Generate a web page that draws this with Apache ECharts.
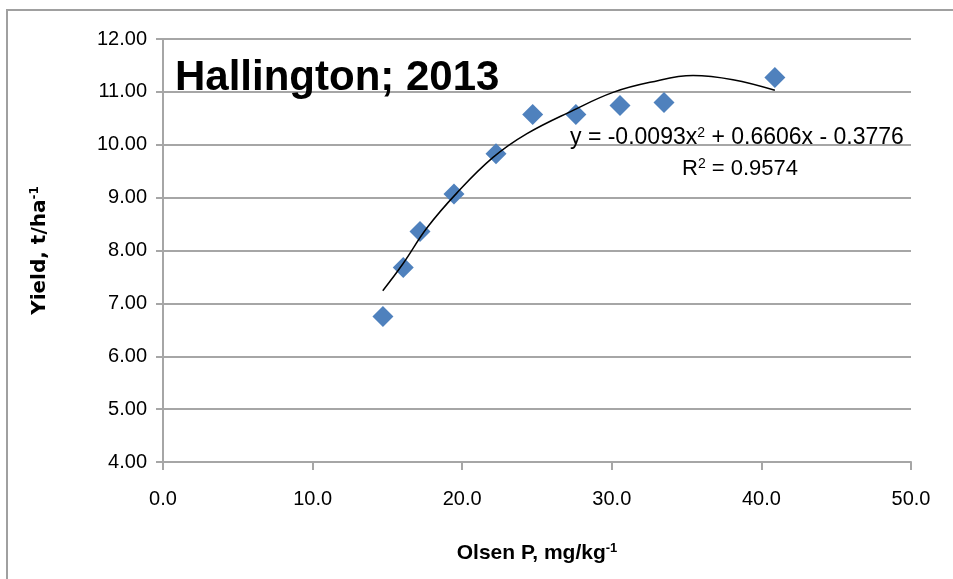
<!DOCTYPE html>
<html>
<head>
<meta charset="utf-8">
<script src="https://cdn.jsdelivr.net/npm/echarts@6/dist/echarts.min.js"></script>
<style>
  html, body { margin: 0; padding: 0; background: #fff; }
  #chart { width: 953px; height: 579px; }
</style>
</head>
<body>
<div id="chart"></div>
<script>
// 观测点（Olsen P, Yield）
var olsenP = [14.7, 16.06, 17.18, 19.45, 22.26, 24.71, 27.6, 30.55, 33.49, 40.9];
var yieldT = [6.75, 7.68, 8.36, 9.07, 9.83, 10.57, 10.57, 10.74, 10.8, 11.27];

// 趋势线，从图上读出的点
var trendX = [14.69, 16.04, 17.65, 19.65, 22.06, 24.33, 27.41, 30.08, 32.55, 35.43, 38.1, 40.9];
var trendY = [7.24, 7.75, 8.43, 9.09, 9.76, 10.21, 10.65, 10.99, 11.18, 11.31, 11.23, 11.03];

var xTicks = [0, 10, 20, 30, 40, 50];
var yTicks = [4, 5, 6, 7, 8, 9, 10, 11, 12];

var chartTitle = "Hallington; 2013";
var equationText = "y = -0.0093x{sup|2} + 0.6606x - 0.3776";
var r2Text = "R{sup|2} = 0.9574";

var myChart = echarts.init(document.getElementById("chart"));

var points = olsenP.map(function (x, i) { return [x, yieldT[i]]; });
var trend = trendX.map(function (x, i) { return [x, trendY[i]]; });

var font = "'Liberation Sans', Arial, sans-serif";
var gridColor = "#a6a6a6";
var supStyle = { fontSize: 14, verticalAlign: "top", padding: [0, 0, 10, 0], color: "#000" };

var option = {
  backgroundColor: "#fff",
  textStyle: { fontFamily: font },
  animation: false,
  graphic: [
    {
      type: "rect",
      shape: { x: 7, y: 10, width: 980, height: 620 },
      style: { fill: null, stroke: "#a0a0a0", lineWidth: 2 },
      z: -1
    }
  ],
  title: [
    {
      text: chartTitle,
      left: 170,
      top: 52,
      textStyle: { fontSize: 42, fontWeight: "bold", color: "#000", fontFamily: font }
    },
    {
      text: equationText,
      left: 565,
      top: 121,
      textStyle: {
        fontSize: 23, fontWeight: "normal", color: "#000", fontFamily: font,
        rich: { sup: supStyle }
      }
    },
    {
      text: r2Text,
      left: 677,
      top: 152,
      textStyle: {
        fontSize: 22, fontWeight: "normal", color: "#000", fontFamily: font,
        rich: { sup: supStyle }
      }
    }
  ],
  grid: { left: 163, right: 42, top: 39, bottom: 117 },
  xAxis: {
    type: "value",
    min: 0,
    max: 50,
    interval: 10,
    name: "Olsen P, mg/kg{sup|-1}",
    nameLocation: "middle",
    nameGap: 80,
    nameTextStyle: {
      fontSize: 21, fontWeight: "bold", color: "#000", fontFamily: font,
      rich: { sup: { fontSize: 13, fontWeight: "bold", verticalAlign: "top", padding: [0, 0, 10, 0] } }
    },
    axisLine: { show: true, lineStyle: { color: gridColor, width: 2 } },
    axisTick: { show: true, length: 8, lineStyle: { color: gridColor, width: 2 } },
    axisLabel: {
      fontSize: 20, color: "#000", margin: 27,
      formatter: function (v) { return v.toFixed(1); }
    },
    splitLine: { show: false }
  },
  yAxis: {
    type: "value",
    min: 4,
    max: 12,
    interval: 1,
    name: "Yield, t/ha{sup|-1}",
    nameLocation: "middle",
    nameGap: 112,
    nameRotate: 90,
    nameTextStyle: {
      fontSize: 20, fontWeight: "bold", color: "#000", fontFamily: "'DejaVu Sans', Verdana, sans-serif",
      rich: { sup: { fontSize: 12, fontWeight: "bold", verticalAlign: "top", padding: [0, 0, 10, 0] } }
    },
    axisLine: { show: true, lineStyle: { color: gridColor, width: 2 } },
    axisTick: { show: true, length: 7, lineStyle: { color: gridColor, width: 2 } },
    axisLabel: {
      fontSize: 20, color: "#000", margin: 16,
      formatter: function (v) { return v.toFixed(2); }
    },
    splitLine: { show: true, lineStyle: { color: gridColor, width: 2 } }
  },
  series: [
    {
      name: "Trend",
      type: "line",
      data: trend,
      smooth: 0.4,
      showSymbol: false,
      symbol: "none",
      lineStyle: { color: "#000", width: 1.5 },
      z: 3
    },
    {
      name: "Yield",
      type: "scatter",
      data: points,
      symbol: "diamond",
      symbolSize: 21,
      itemStyle: { color: "#4f81bd", opacity: 1 },
      z: 2
    }
  ]
};

myChart.setOption(option);
</script>
</body>
</html>
